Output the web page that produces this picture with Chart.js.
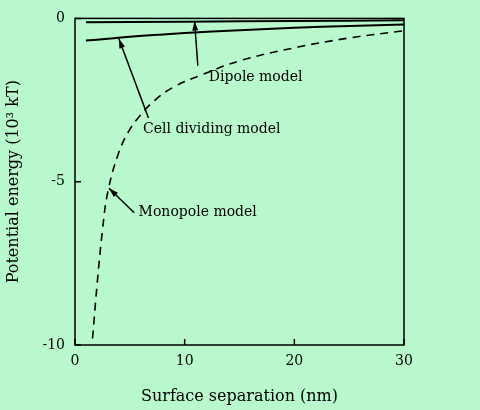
<!DOCTYPE html>
<html><head><meta charset="utf-8">
<script src="https://cdn.jsdelivr.net/npm/chart.js@4"></script>
<style>html,body{margin:0;background:#b9f7cd}#c{display:block}</style>
</head><body>
<canvas id="c" width="480" height="410"></canvas>
<script>
const dipoleX = [1, 5, 10, 15, 20, 25, 30];
const dipoleY = [-0.12, -0.11, -0.1, -0.09, -0.08, -0.07, -0.06];
const cellX = [1, 3, 5, 8, 10, 15, 20, 25, 30];
const cellY = [-0.68, -0.62, -0.56, -0.49, -0.45, -0.36, -0.29, -0.23, -0.19];
const monoX = [1.6, 2, 2.5, 3, 4, 5, 6, 7.3, 9, 11.4, 15, 20, 25, 30];
const monoY = [-9.8, -8.2, -6.5, -5.3, -4.1, -3.4, -2.95, -2.5, -2.1, -1.75, -1.3, -0.9, -0.6, -0.38];
const xTicks = [0, 10, 20, 30];
const yTicks = [0, -5, -10];
const notes = [
  { text: 'Dipole model', tx: 12.2, ty: -1.8, ax: 11.2, ay: -1.45, hx: 10.9, hy: -0.08 },
  { text: 'Cell dividing model', tx: 6.2, ty: -3.4, ax: 6.7, ay: -3.05, hx: 4, hy: -0.62 },
  { text: 'Monopole model', tx: 5.8, ty: -5.95, ax: 5.4, ay: -5.95, hx: 3.1, hy: -5.2 }
];

const pts = (xs, ys) => xs.map((x, i) => ({ x: x, y: ys[i] }));
const font = '"DejaVu Serif", "Liberation Serif", serif';

const decor = {
  id: 'decor',
  afterDatasetsDraw(chart) {
    const { ctx, chartArea: a, scales: { x, y } } = chart;
    ctx.save();
    ctx.strokeStyle = '#000';
    ctx.lineWidth = 1.5;
    ctx.strokeRect(a.left, a.top, a.right - a.left, a.bottom - a.top);
    // inner ticks
    ctx.beginPath();
    yTicks.forEach(v => { const p = y.getPixelForValue(v); ctx.moveTo(a.left, p); ctx.lineTo(a.left + 6, p); });
    xTicks.forEach(v => { const p = x.getPixelForValue(v); ctx.moveTo(p, a.bottom); ctx.lineTo(p, a.bottom - 6); });
    ctx.stroke();
    // annotations
    ctx.font = '14px ' + font;
    ctx.fillStyle = '#000';
    ctx.textBaseline = 'middle';
    ctx.lineWidth = 1.5;
    notes.forEach(n => {
      const x0 = x.getPixelForValue(n.ax), y0 = y.getPixelForValue(n.ay);
      const x1 = x.getPixelForValue(n.hx), y1 = y.getPixelForValue(n.hy);
      ctx.beginPath(); ctx.moveTo(x0, y0); ctx.lineTo(x1, y1); ctx.stroke();
      const ang = Math.atan2(y1 - y0, x1 - x0);
      ctx.beginPath();
      ctx.moveTo(x1, y1);
      ctx.lineTo(x1 - 10 * Math.cos(ang - 0.3), y1 - 10 * Math.sin(ang - 0.3));
      ctx.lineTo(x1 - 10 * Math.cos(ang + 0.3), y1 - 10 * Math.sin(ang + 0.3));
      ctx.closePath(); ctx.fill();
      ctx.fillText(n.text, x.getPixelForValue(n.tx), y.getPixelForValue(n.ty));
    });
    ctx.restore();
  }
};

new Chart(document.getElementById('c'), {
  type: 'scatter',
  data: {
    datasets: [
      { data: pts(dipoleX, dipoleY), showLine: true, borderColor: '#000', borderWidth: 2, pointRadius: 0 },
      { data: pts(cellX, cellY), showLine: true, borderColor: '#000', borderWidth: 2, pointRadius: 0, tension: 0.4 },
      { data: pts(monoX, monoY), showLine: true, borderColor: '#000', borderWidth: 1.6, borderDash: [8, 6], pointRadius: 0, tension: 0.4 }
    ]
  },
  options: {
    responsive: false,
    animation: false,
    layout: { padding: { top: 17, right: 76, left: 0, bottom: 0 } },
    plugins: { legend: { display: false }, tooltip: { enabled: false } },
    scales: {
      x: {
        min: 0, max: 30,
        afterBuildTicks: s => { s.ticks = xTicks.map(v => ({ value: v })); },
        afterFit: s => { s.height = 65; },
        grid: { display: false, drawTicks: false },
        border: { display: false },
        ticks: { color: '#000', font: { family: font, size: 14 }, padding: 8 },
        title: { display: true, text: 'Surface separation (nm)', color: '#000', font: { family: font, size: 16 }, padding: { top: 8 } }
      },
      y: {
        min: -10, max: 0,
        afterBuildTicks: s => { s.ticks = yTicks.map(v => ({ value: v })); },
        afterFit: s => { s.width = 75; },
        grid: { display: false, drawTicks: false },
        border: { display: false },
        ticks: { color: '#000', font: { family: font, size: 14 }, padding: 10 },
        title: { display: true, text: 'Potential energy (10³ kT)', color: '#000', font: { family: font, size: 16 }, padding: { bottom: 4 } }
      }
    }
  },
  plugins: [decor]
});
</script>
</body></html>
